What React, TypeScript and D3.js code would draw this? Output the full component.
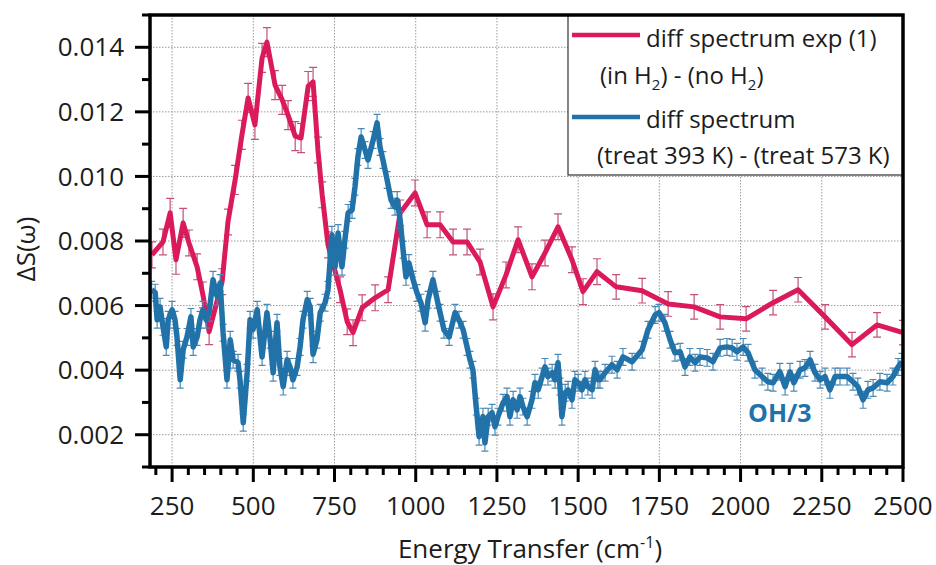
import React from "react";
import * as d3 from "d3";

// Difference spectrum, experiment (1): (in H2) - (no H2)
const redE = [188, 222, 244, 262, 284, 302, 327, 345, 364, 404, 422, 444, 465, 484, 505, 527, 542, 567, 589, 607, 629, 647, 669, 684, 699, 712, 730, 767, 789, 807, 835, 875, 915, 952, 998, 1035, 1075, 1115, 1158, 1198, 1238, 1278, 1315, 1358, 1398, 1438, 1481, 1515, 1558, 1617, 1697, 1777, 1857, 1937, 2017, 2100, 2177, 2260, 2343, 2420, 2500];
const redS = [0.00757, 0.00797, 0.00887, 0.00742, 0.00856, 0.00794, 0.0072, 0.00633, 0.00519, 0.00674, 0.00859, 0.00989, 0.01129, 0.01243, 0.0116, 0.01367, 0.01416, 0.01283, 0.01237, 0.0119, 0.01125, 0.01119, 0.0128, 0.01293, 0.01082, 0.00943, 0.00788, 0.00649, 0.0055, 0.00516, 0.00593, 0.00624, 0.00649, 0.00887, 0.00949, 0.0085, 0.0085, 0.00797, 0.00797, 0.00735, 0.00596, 0.00695, 0.00804, 0.00689, 0.00763, 0.00844, 0.00742, 0.00643, 0.00705, 0.00658, 0.00646, 0.00605, 0.00596, 0.00565, 0.00559, 0.00609, 0.00649, 0.00565, 0.00479, 0.0054, 0.00516];
const redErr = [0.0004, 0.0004, 0.00045, 0.00045, 0.00045, 0.0004, 0.0004, 0.0004, 0.0004, 0.0004, 0.0004, 0.00045, 0.00045, 0.00045, 0.00045, 0.00045, 0.00045, 0.00045, 0.00045, 0.00045, 0.00045, 0.00045, 0.00045, 0.00045, 0.0004, 0.0004, 0.0004, 0.0004, 0.0004, 0.0004, 0.0004, 0.0004, 0.0004, 0.0004, 0.0004, 0.0004, 0.0004, 0.0004, 0.0004, 0.0004, 0.0004, 0.0004, 0.0004, 0.0004, 0.0004, 0.0004, 0.0004, 0.0004, 0.0004, 0.00038, 0.00038, 0.00038, 0.00038, 0.00038, 0.00038, 0.00038, 0.00038, 0.00038, 0.00038, 0.00038, 0.00038];

// Difference spectrum: (treat 393 K) - (treat 573 K)
const blueE = [187, 198, 204, 213, 222, 232, 238, 250, 259, 265, 275, 284, 296, 308, 315, 327, 336, 345, 355, 364, 376, 389, 398, 407, 419, 429, 438, 453, 459, 469, 481, 490, 499, 512, 527, 542, 552, 561, 573, 582, 592, 604, 613, 622, 635, 644, 653, 666, 675, 684, 696, 706, 721, 730, 742, 752, 761, 773, 782, 792, 804, 813, 822, 832, 844, 853, 869, 881, 890, 899, 912, 924, 936, 943, 952, 961, 970, 979, 992, 1004, 1016, 1029, 1038, 1053, 1066, 1075, 1087, 1103, 1121, 1133, 1146, 1158, 1167, 1176, 1186, 1195, 1207, 1213, 1223, 1235, 1244, 1253, 1269, 1281, 1290, 1300, 1312, 1321, 1330, 1343, 1358, 1367, 1377, 1389, 1398, 1407, 1420, 1429, 1438, 1444, 1450, 1460, 1469, 1481, 1490, 1500, 1512, 1521, 1530, 1543, 1552, 1561, 1567, 1583, 1604, 1620, 1638, 1666, 1697, 1715, 1737, 1749, 1767, 1783, 1798, 1814, 1829, 1844, 1860, 1875, 1897, 1915, 1937, 1958, 1974, 1989, 2008, 2023, 2044, 2066, 2084, 2100, 2121, 2137, 2152, 2164, 2183, 2198, 2214, 2229, 2245, 2260, 2275, 2291, 2306, 2328, 2346, 2361, 2377, 2392, 2408, 2429, 2451, 2469, 2485, 2497];
const blueS = [0.00649, 0.0064, 0.00556, 0.00596, 0.00534, 0.00472, 0.00556, 0.00587, 0.00556, 0.00503, 0.0037, 0.00463, 0.00503, 0.00565, 0.00472, 0.00503, 0.00556, 0.00587, 0.00556, 0.00578, 0.0068, 0.00627, 0.0067, 0.00516, 0.0037, 0.00494, 0.00432, 0.00423, 0.0037, 0.00237, 0.00392, 0.00556, 0.00525, 0.00587, 0.00441, 0.00578, 0.00494, 0.00392, 0.00547, 0.0041, 0.00349, 0.00432, 0.0041, 0.0037, 0.0041, 0.00472, 0.00556, 0.00618, 0.00596, 0.00449, 0.00494, 0.00578, 0.00609, 0.00649, 0.00819, 0.0072, 0.00825, 0.0072, 0.00804, 0.00887, 0.00896, 0.00968, 0.0106, 0.01122, 0.01082, 0.01051, 0.01113, 0.01166, 0.01091, 0.01051, 0.00989, 0.00927, 0.00906, 0.00927, 0.00865, 0.00773, 0.00689, 0.00732, 0.0068, 0.00639, 0.00609, 0.00547, 0.00618, 0.0068, 0.00618, 0.00578, 0.00525, 0.00503, 0.00578, 0.00556, 0.00525, 0.00472, 0.00432, 0.00401, 0.00287, 0.00194, 0.00256, 0.00175, 0.00256, 0.00268, 0.00225, 0.00256, 0.00299, 0.00318, 0.00256, 0.00308, 0.00277, 0.00318, 0.00287, 0.00256, 0.00308, 0.00361, 0.00339, 0.0038, 0.0041, 0.0038, 0.00392, 0.0037, 0.00423, 0.00349, 0.00256, 0.0033, 0.00339, 0.00308, 0.0037, 0.00361, 0.00339, 0.0037, 0.00349, 0.00339, 0.00401, 0.0037, 0.0037, 0.00392, 0.00417, 0.00401, 0.00441, 0.00426, 0.00463, 0.00525, 0.00571, 0.00578, 0.00547, 0.00494, 0.00454, 0.00457, 0.0041, 0.00441, 0.00423, 0.00441, 0.00438, 0.00426, 0.00469, 0.00472, 0.00469, 0.00457, 0.00472, 0.00454, 0.00401, 0.0038, 0.00364, 0.00361, 0.00395, 0.00349, 0.00395, 0.00361, 0.00401, 0.00407, 0.00432, 0.00392, 0.0037, 0.0038, 0.00339, 0.0038, 0.0038, 0.0038, 0.00364, 0.00349, 0.00308, 0.00339, 0.00345, 0.00364, 0.00361, 0.0038, 0.0041, 0.00426];
const blueErr = blueE.map(() => 0.00026);

const xMajor = [250, 500, 750, 1000, 1250, 1500, 1750, 2000, 2250, 2500];
const xMinor = d3.range(200, 2501, 50).filter((v) => v % 250 !== 0);
const yMajor = [0.002, 0.004, 0.006, 0.008, 0.01, 0.012, 0.014];
const yMinor = [0.001, 0.003, 0.005, 0.007, 0.009, 0.011, 0.013, 0.015];

const RED = "#DB1A5C";
const RED_BAR = "#C2517F";
const BLUE = "#2272AA";
const BLUE_BAR = "#4B8AB6";
const INK = "#1c1c1c";
const FONT = "'Open Sans', 'Noto Sans', sans-serif";

const W = 936;
const H = 565;
const L = 150;
const R = 903;
const T = 15;
const B = 467;

const x = d3.scaleLinear().domain([182, 2500]).range([L, R]);
const y = d3.scaleLinear().domain([0.001, 0.015]).range([B, T]);

type Pt = { e: number; s: number; err: number };
const zip = (e: number[], s: number[], err: number[]): Pt[] =>
  e.map((v, i) => ({ e: v, s: s[i], err: err[i] }));

const redPts = zip(redE, redS, redErr);
const bluePts = zip(blueE, blueS, blueErr);

const line = d3
  .line<Pt>()
  .x((d) => x(d.e))
  .y((d) => y(d.s));

function ErrorBars({ pts, color, cap }: { pts: Pt[]; color: string; cap: number }) {
  return (
    <g stroke={color} strokeWidth={1.2} fill="none">
      {pts.map((d, i) => {
        const cx = x(d.e);
        const y1 = y(d.s + d.err);
        const y2 = y(d.s - d.err);
        return (
          <path
            key={i}
            d={`M${cx},${y1}V${y2}M${cx - cap},${y1}H${cx + cap}M${cx - cap},${y2}H${cx + cap}`}
          />
        );
      })}
    </g>
  );
}

export default function App() {
  return (
    <svg width={W} height={H} style={{ display: "block", position: "absolute", left: 0, top: 0, background: "#fff" }} fontFamily={FONT}>
      <defs>
        <clipPath id="plot">
          <rect x={L} y={T} width={R - L} height={B - T} />
        </clipPath>
      </defs>

      {/* grid */}
      <g stroke="#9a9a9a" strokeWidth={1} strokeDasharray="1.5,1.5">
        {xMajor.filter((v) => v < 2500).map((v) => (
          <line key={v} x1={x(v)} x2={x(v)} y1={T} y2={B} />
        ))}
        {yMajor.map((v) => (
          <line key={v} x1={L} x2={R} y1={y(v)} y2={y(v)} />
        ))}
      </g>

      <g clipPath="url(#plot)">
        <ErrorBars pts={redPts} color={RED_BAR} cap={4} />
        <path d={line(redPts) || ""} fill="none" stroke={RED} strokeWidth={5} strokeLinejoin="round" />
        <ErrorBars pts={bluePts} color={BLUE_BAR} cap={3.5} />
        <path d={line(bluePts) || ""} fill="none" stroke={BLUE} strokeWidth={5.5} strokeLinejoin="round" />
      </g>

      <text x={748} y={422} fill={BLUE} fontWeight={700} fontSize={25}>
        OH/3
      </text>

      {/* legend */}
      <g>
        <rect x={568} y={T} width={R - 568} height={160} fill="#fff" stroke="#333" strokeWidth={1.2} />
        <line x1={572} x2={640} y1={35} y2={35} stroke={RED} strokeWidth={4.5} />
        <text x={646} y={47} fontSize={24} fill={INK}>diff spectrum exp (1)</text>
        <text x={600} y={84} fontSize={24} fill={INK}>
          (in H<tspan fontSize={15} dy={6}>2</tspan>
          <tspan dy={-6}>) - (no H</tspan>
          <tspan fontSize={15} dy={6}>2</tspan>
          <tspan dy={-6}>)</tspan>
        </text>
        <line x1={572} x2={640} y1={117} y2={117} stroke={BLUE} strokeWidth={4.5} />
        <text x={646} y={128} fontSize={24} fill={INK}>diff spectrum</text>
        <text x={597} y={164} fontSize={24} fill={INK}>(treat 393 K) - (treat 573 K)</text>
      </g>

      {/* frame */}
      <rect x={L} y={T} width={R - L} height={B - T} fill="none" stroke="#000" strokeWidth={3.5} />

      {/* y ticks */}
      <g stroke="#000" strokeWidth={3}>
        {yMajor.map((v) => (
          <line key={v} x1={L - 15} x2={L} y1={y(v)} y2={y(v)} />
        ))}
        {yMinor.map((v) => (
          <line key={v} x1={L - 8} x2={L} y1={y(v)} y2={y(v)} />
        ))}
      </g>
      <g fontSize={26} fill={INK} textAnchor="end">
        {yMajor.map((v) => (
          <text key={v} x={124} y={y(v)} dy="0.35em">
            {d3.format(".3f")(v)}
          </text>
        ))}
      </g>

      {/* x ticks */}
      <g stroke="#000" strokeWidth={3}>
        {xMajor.map((v) => (
          <line key={v} x1={x(v)} x2={x(v)} y1={B} y2={B + 15} />
        ))}
        {xMinor.map((v) => (
          <line key={v} x1={x(v)} x2={x(v)} y1={B} y2={B + 8} />
        ))}
      </g>
      <g fontSize={26} fill={INK} textAnchor="middle">
        {xMajor.map((v) => (
          <text key={v} x={x(v)} y={515}>
            {v}
          </text>
        ))}
      </g>

      {/* axis titles */}
      <text x={530} y={558} fontSize={26} fill={INK} textAnchor="middle">
        Energy Transfer (cm<tspan fontSize={16} dy={-10}>-1</tspan>
        <tspan dy={10}>)</tspan>
      </text>
      <text transform="translate(35,249) rotate(-90)" fontSize={26} fill={INK} textAnchor="middle">
        ΔS(ω)
      </text>
    </svg>
  );
}
